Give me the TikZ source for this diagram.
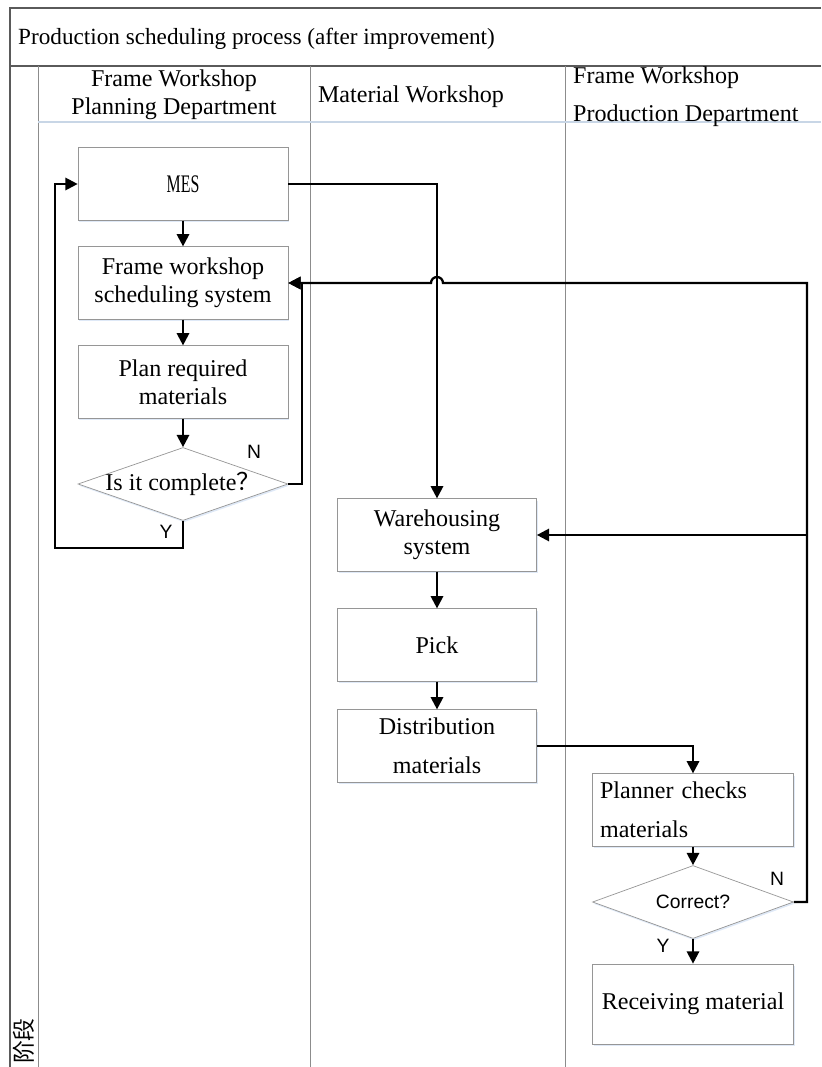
\documentclass[tikz,border=0pt]{standalone}
\usepackage{fontspec}
\setmainfont{Liberation Serif}
\setsansfont{Liberation Sans}
\newfontfamily\cjkfont{Noto Sans CJK SC}
\usetikzlibrary{arrows.meta,positioning,shapes.geometric,shadows}
\definecolor{framegray}{RGB}{90,90,90}
\definecolor{lanegray}{RGB}{140,140,140}
\definecolor{boxgray}{RGB}{150,150,150}
\definecolor{headblue}{RGB}{200,214,230}
\definecolor{shadowblue}{RGB}{215,228,245}

\begin{document}
\begin{tikzpicture}[
    x=0.02cm, y=-0.02cm,
    procbox/.style={rectangle, draw=boxgray, minimum width=4.2cm,
                minimum height=1.45cm, font=\fontsize{13.7}{16}\selectfont, align=center,
                fill=white, drop shadow={fill=shadowblue, opacity=0.8,
                shadow xshift=0.6pt, shadow yshift=-1pt}},
    decision/.style={diamond, draw=boxgray, aspect=2.8, minimum width=4.2cm,
                minimum height=1.46cm, inner sep=0pt, fill=white,
                drop shadow={fill=shadowblue, opacity=0.8,
                shadow xshift=0.6pt, shadow yshift=-1pt}},
    lanetitle/.style={font=\fontsize{13.7}{21.5}\selectfont},
    yn/.style={font=\sffamily\fontsize{11}{13}\selectfont},
    arrow/.style={-{Triangle[length=7pt,width=7pt]}, line width=1.3pt}
]
\useasboundingbox (0,0) rectangle (821,1067);
% frame and lanes
\draw[framegray, line width=0.7pt] (821,8) -- (10,8) -- (10,1067);
\draw[framegray, line width=0.7pt] (10,66) -- (821,66);
\draw[lanegray, line width=0.5pt] (38,66) -- (38,1067);
\draw[lanegray, line width=0.5pt] (310,66) -- (310,1067);
\draw[lanegray, line width=0.5pt] (565,66) -- (565,1067);
\draw[headblue, line width=0.8pt] (38,122) -- (821,122);
\node[anchor=west, font=\fontsize{13.2}{15}\selectfont] (title) at (12,39)
    {Production scheduling process (after improvement)};
\node[lanetitle, align=center, font=\fontsize{13.7}{16}\selectfont] (plan) at (174,95)
    {Frame Workshop\\Planning Department};
\node[lanetitle] (mat) at (411,97) {Material Workshop};
\node[lanetitle, align=left, anchor=west] (prod) at (567,97)
    {Frame Workshop\\Production Department};
\node[rotate=90, font=\cjkfont\fontsize{13}{15}\selectfont] (stage) at (24,1041) {阶段};

% planning department
\node[procbox] (mes) at (183,184) {\scalebox{0.66}[1.05]{MES}};
\node[procbox] (sched) at (183,283) {Frame workshop\\scheduling system};
\node[procbox] (req) at (183,382) {Plan required\\materials};
\node[decision, font=\fontsize{13.7}{15}\selectfont] (done) at (183,484)
    {\makebox[0pt]{Is it complete{\cjkfont ？}}};
\node[yn] (doneY) at (166,532) {Y};
\node[yn] (doneN) at (254,452) {N};
\coordinate (yback) at (55,548);
\coordinate (nback) at (302,484);

% material workshop
\node[procbox, minimum width=3.98cm] (ware) at (437,535) {Warehousing\\system};
\node[procbox, minimum width=3.98cm] (pick) at (437,645) {Pick};
\node[procbox, minimum width=3.98cm, font=\fontsize{13.7}{22}\selectfont] (dist) at (437,746)
    {Distribution\\materials};

% production department
\node[procbox, align=left, text width=3.72cm, minimum width=4.02cm,
    font=\fontsize{13.7}{22}\selectfont] (check) at (693,810) {Planner checks\\materials};
\node[decision, minimum width=4.02cm, font=\sffamily\fontsize{11}{13}\selectfont]
    (ok) at (693,902) {\makebox[0pt]{Correct?}};
\node[yn] (okY) at (663,946) {Y};
\node[yn] (okN) at (777,879) {N};
\node[procbox, minimum width=4.02cm, minimum height=1.6cm] (recv) at (693,1004)
    {Receiving material};
\coordinate (nside) at (807,902);

% connectors
\draw[arrow] (mes) -- (sched);
\draw[arrow] (sched) -- (req);
\draw[arrow] (req) -- (done);
\draw[arrow] (done.south) |- (yback) |- (mes.west);
\draw[arrow] (done.east) -- (nback) |- (sched.east);
\draw[arrow] (mes.east) -| (ware.north);
\draw[arrow] (ware) -- (pick);
\draw[arrow] (pick) -- (dist);
\draw[arrow] (dist.east) -| (check.north);
\draw[arrow] (check) -- (ok);
\draw[arrow] (ok) -- (recv);
\draw[arrow] (ok.east) -- (nside) -- (nside |- sched.east) -- (443,283)
    arc[start angle=0, end angle=-180, radius=6] -- (sched.east);
\draw[arrow] (nside |- ware.east) -- (ware.east);
\end{tikzpicture}
\end{document}
